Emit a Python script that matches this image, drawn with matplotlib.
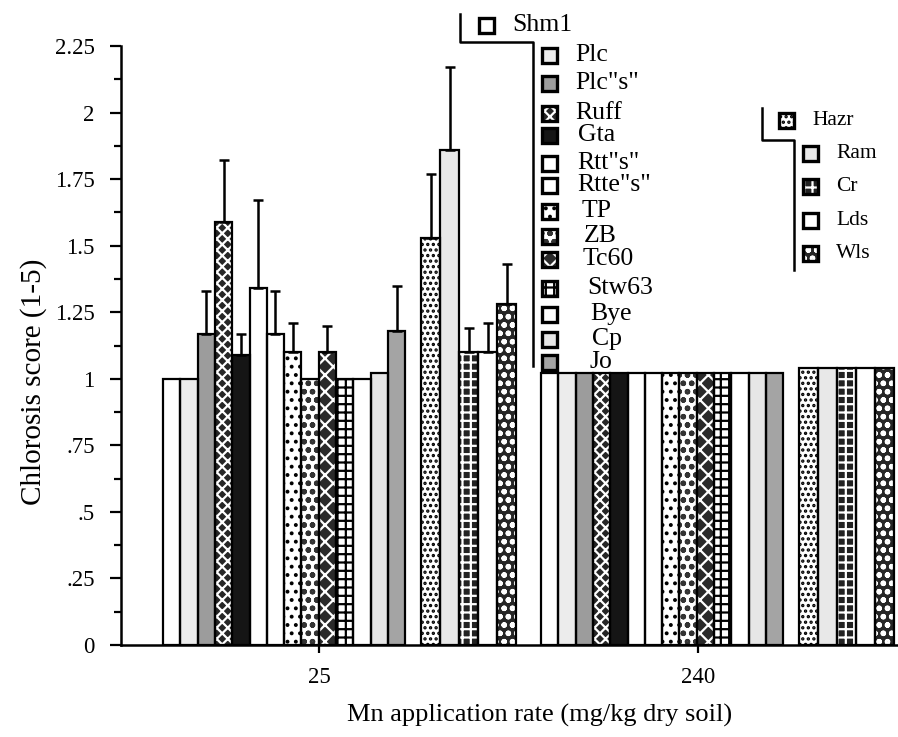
import matplotlib.pyplot as plt
from matplotlib.patches import Rectangle

plt.rcParams["font.family"] = ["Liberation Serif", "DejaVu Serif"]
plt.rcParams["hatch.linewidth"] = 1.6

# cultivars: first chart (14) and second chart (5)
cultivars_a = ["Shm1", "Plc", "Plc\"s\"", "Ruff", "Gta", "Rtt\"s\"", "Rtte\"s\"",
               "TP", "ZB", "Tc60", "Stw63", "Bye", "Cp", "Jo"]
cultivars_b = ["Hazr", "Ram", "Cr", "Lds", "Wls"]
rates = ["25", "240"]

# chlorosis score at 25 mg/kg and the upper error bar
score_25_a = [1.00, 1.00, 1.17, 1.59, 1.09, 1.34, 1.17, 1.10, 1.00, 1.10, 1.00, 1.00, 1.02, 1.18]
err_25_a = [0, 0, 0.16, 0.23, 0.08, 0.33, 0.16, 0.11, 0, 0.10, 0, 0, 0, 0.17]
score_25_b = [1.53, 1.86, 1.10, 1.10, 1.28]
err_25_b = [0.24, 0.31, 0.09, 0.11, 0.15]

# chlorosis score at 240 mg/kg (no error bars drawn)
score_240_a = [1.02] * 14
score_240_b = [1.04] * 5

# fill styles: (face colour, hatch colour, hatch)
style_a = [("white", None, None), ("#ececec", None, None), ("#9c9c9c", None, None),
           ("#262626", "white", "xxx"), ("#151515", None, None), ("white", None, None),
           ("white", None, None), ("white", "black", ".."), ("white", "#333333", "oo"),
           ("#2a2a2a", "white", "xx"), ("white", "black", "++"), ("white", None, None),
           ("#e6e6e6", None, None), ("#a4a4a4", None, None)]
style_b = [("white", "black", "..."), ("#e8e8e8", None, None), ("#222222", "white", "++"),
           ("white", None, None), ("#262626", "white", "oo")]


def draw_bar(axis, x, h, w, style, lw=1.6):
    face, hcol, hatch = style
    if hatch:
        axis.add_patch(Rectangle((x, 0), w, h, facecolor=face, edgecolor=hcol,
                                 hatch=hatch, linewidth=0, zorder=2))
    else:
        axis.add_patch(Rectangle((x, 0), w, h, facecolor=face, linewidth=0, zorder=2))
    axis.add_patch(Rectangle((x, 0), w, h, fill=False, edgecolor="black",
                             linewidth=lw, zorder=3))


fig = plt.figure(figsize=(8.98, 7.37), dpi=100)
ax = fig.add_axes([121 / 898, (737 - 645) / 737, (898 - 121) / 898, (645 - 46) / 737])

w1, w2, gap = 17.3, 19.0, 16
group_start = [163, 541]
tick_pos = [319, 698]

for g, (sa, sb) in enumerate([(score_25_a, score_25_b), (score_240_a, score_240_b)]):
    s = group_start[g]
    for i, v in enumerate(sa):
        x = s + i * w1
        draw_bar(ax, x, v, w1, style_a[i])
        if g == 0 and err_25_a[i] > 0:
            ax.errorbar(x + w1 / 2, v, yerr=[[0], [err_25_a[i]]], fmt="none",
                        ecolor="black", elinewidth=1.8, capsize=3.5, capthick=1.8, zorder=4)
    for j, v in enumerate(sb):
        x = s + 14 * w1 + gap + j * w2
        draw_bar(ax, x, v, w2, style_b[j])
        if g == 0 and err_25_b[j] > 0:
            ax.errorbar(x + w2 / 2, v, yerr=[[0], [err_25_b[j]]], fmt="none",
                        ecolor="black", elinewidth=1.8, capsize=3.5, capthick=1.8, zorder=4)

ax.set_xlim(121, 898)
ax.set_ylim(0, 2.25)
ax.set_yticks([0, 0.25, 0.5, 0.75, 1, 1.25, 1.5, 1.75, 2, 2.25])
ax.set_yticklabels(["0", ".25", ".5", ".75", "1", "1.25", "1.5", "1.75", "2", "2.25"])
ax.set_yticks([0.125 + 0.25 * k for k in range(9)], minor=True)
ax.set_xticks(tick_pos)
ax.set_xticklabels(rates)
ax.tick_params(axis="y", which="major", direction="out", length=8, width=1.6, labelsize=16.5, pad=11)
ax.tick_params(axis="y", which="minor", direction="out", length=5, width=1.6)
ax.tick_params(axis="x", direction="out", length=6, width=1.6, labelsize=16.5, pad=10)
for side in ["top", "right"]:
    ax.spines[side].set_visible(False)
for side in ["left", "bottom"]:
    ax.spines[side].set_linewidth(1.8)
ax.set_ylabel("Chlorosis score (1-5)", fontsize=21)
ax.yaxis.set_label_coords(-0.095, 0.44)
ax.set_xlabel("Mn application rate (mg/kg dry soil)", fontsize=19)
ax.xaxis.set_label_coords(0.539, -0.098)

# overlay in pixel coordinates for the two bracket legends
ov = fig.add_axes([0, 0, 1, 1], zorder=5)
ov.set_xlim(0, 898)
ov.set_ylim(737, 0)
ov.axis("off")


def legend_box(x, y, style, size=15):
    face, hcol, hatch = style
    if hatch:
        ov.add_patch(Rectangle((x, y - size / 2), size, size, facecolor=face, edgecolor=hcol,
                               hatch=hatch, linewidth=0))
    else:
        ov.add_patch(Rectangle((x, y - size / 2), size, size, facecolor=face, linewidth=0))
    ov.add_patch(Rectangle((x, y - size / 2), size, size, fill=False, edgecolor="black",
                           linewidth=2.4))


# legend 1 (entries placed as in the pasted-up original)
leg1_y = [55, 83, 113, 135, 163, 185, 211, 236, 259, 288, 314, 339, 362]
leg1_tx = [575, 575, 575, 578, 577, 577, 582, 584, 583, 587, 590, 592, 589]
ov.plot([460, 460, 533, 533], [14, 42, 42, 366], color="black", lw=1.8)
legend_box(479, 25, style_a[0])
ov.text(512, 25, cultivars_a[0], fontsize=18.5, va="center")
for i in range(1, 14):
    legend_box(542, leg1_y[i - 1], style_a[i])
    ov.text(leg1_tx[i - 1], leg1_y[i - 1], cultivars_a[i], fontsize=18.5, va="center")

# legend 2
ov.plot([762, 762, 794, 794], [108, 140, 140, 270], color="black", lw=1.8)
legend_box(779, 120, style_b[0])
ov.text(812, 120, cultivars_b[0], fontsize=15.5, va="center")
for j in range(1, 5):
    y = 153 + (j - 1) * 33.5
    legend_box(803, y, style_b[j])
    ov.text(836, y, cultivars_b[j], fontsize=15.5, va="center")

fig.savefig("out.png", dpi=100)
